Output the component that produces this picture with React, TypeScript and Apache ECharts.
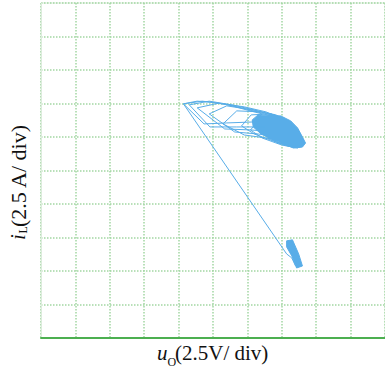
import React, { useEffect, useRef } from "react";
import * as echarts from "echarts";

// Trajectory in divisions (x: u_O, y: i_L)
const uo = [
  7.40, 7.29, 7.14, 7.06, 4.14, 4.54, 4.94, 5.46, 5.97, 6.43, 6.20, 5.40, 4.74, 4.14, 4.69,
  5.26, 5.83, 6.40, 6.83, 6.49, 5.69, 4.91, 4.31, 4.89, 5.54, 6.20, 6.77, 7.17, 6.83, 6.11,
  5.34, 4.54, 5.17, 5.91, 6.54, 7.11, 7.40, 7.11, 6.31, 5.63, 4.89, 5.40, 6.14, 6.83, 7.29,
  7.54, 7.29, 6.54, 5.91, 5.29, 5.69, 6.40, 7.06, 7.40, 7.63, 7.40, 6.83, 6.20, 5.83, 6.11,
  6.69, 7.20, 7.49, 7.66, 7.46, 7.00, 6.43, 6.09, 6.37, 6.97, 7.34, 7.57, 7.54, 7.17, 6.71,
  6.34, 6.60, 7.11, 7.46, 7.60, 7.34, 6.89, 6.54, 6.83, 7.29, 7.54,
];
const iL = [
  2.15, 2.39, 2.51, 2.63, 6.99, 7.07, 7.04, 6.96, 6.81, 6.69, 6.45, 6.42, 6.39, 6.99, 7.07,
  6.99, 6.87, 6.72, 6.57, 6.30, 6.30, 6.30, 6.96, 7.07, 6.96, 6.81, 6.63, 6.45, 6.15, 6.21,
  6.24, 6.87, 7.01, 6.90, 6.75, 6.51, 6.27, 5.97, 6.09, 6.15, 6.69, 6.93, 6.81, 6.66, 6.39,
  6.09, 5.82, 5.97, 6.06, 6.39, 6.78, 6.75, 6.57, 6.27, 5.91, 5.70, 5.85, 6.09, 6.33, 6.66,
  6.69, 6.48, 6.18, 5.82, 5.67, 5.76, 5.97, 6.21, 6.54, 6.60, 6.33, 5.97, 5.70, 5.73, 5.91,
  6.15, 6.45, 6.48, 6.15, 5.82, 5.70, 5.82, 6.06, 6.33, 6.27, 5.91,
];

// Dense (filled) regions of the trajectory
const upperBlobU = [6.31, 6.97, 7.26, 7.46, 7.60, 7.69, 7.60, 7.34, 7.06, 6.71, 6.40, 6.17, 6.14];
const upperBlobI = [6.66, 6.63, 6.48, 6.27, 6.00, 5.82, 5.70, 5.67, 5.79, 5.94, 6.09, 6.30, 6.51];
const lowerBlobU = [7.14, 7.31, 7.49, 7.60, 7.43, 7.29, 7.14];
const lowerBlobI = [2.90, 2.93, 2.51, 2.15, 2.09, 2.45, 2.72];

const DIV_MIN = 0;
const DIV_MAX = 10;

const BLUE = "#58ade8";
const GRID_GREEN = "#a2d6a2";
const SERIF = "Liberation Serif";

export default function App() {
  const ref = useRef<HTMLDivElement>(null);
  useEffect(() => {
    if (!ref.current) return;
    const chart = echarts.init(ref.current, undefined, { renderer: "svg" });
    const traj = uo.map((u, k) => [u, iL[k]]);
    const blobs = [
      upperBlobU.map((u, k) => [u, upperBlobI[k]]),
      lowerBlobU.map((u, k) => [u, lowerBlobI[k]]),
    ];
    const txt = (text: string, x: number, y: number, size: number, italic: boolean, rot = 0) => ({
      type: "text",
      x,
      y,
      rotation: rot,
      silent: true,
      style: {
        text,
        fontFamily: SERIF,
        fontSize: size,
        fontStyle: italic ? "italic" : "normal",
        fill: "#111",
        verticalAlign: "middle",
        align: "left",
      },
    });
    chart.setOption({
      animation: false,
      grid: {
        left: 41,
        top: 3,
        width: 350,
        height: 335,
        show: true,
        borderColor: "#dcecdc",
        borderWidth: 1,
      },
      xAxis: {
        type: "value",
        min: DIV_MIN,
        max: DIV_MAX,
        interval: 1,
        axisLine: { show: true, onZero: false, lineStyle: { color: "#4caf50", width: 2 } },
        axisTick: { show: false },
        axisLabel: { show: false },
        splitLine: { show: true, lineStyle: { color: GRID_GREEN, width: 1.5, type: [1.5, 1.5] } },
      },
      yAxis: {
        type: "value",
        min: DIV_MIN,
        max: DIV_MAX,
        interval: 1,
        axisLine: { show: true, lineStyle: { color: "#dcecdc", width: 1 } },
        axisTick: { show: false },
        axisLabel: { show: false },
        splitLine: { show: true, lineStyle: { color: GRID_GREEN, width: 1.5, type: [1.5, 1.5] } },
      },
      series: [
        {
          type: "custom",
          data: blobs.map((_, k) => [k]),
          renderItem: (params: any, api: any) => {
            const idx = api.value(0);
            const pts = blobs[idx].map((p) => api.coord(p));
            return {
              type: "polygon",
              shape: { points: pts },
              style: { fill: BLUE, stroke: BLUE, lineWidth: 1 },
            };
          },
          silent: true,
          z: 3,
        },
        {
          type: "line",
          data: traj,
          showSymbol: false,
          lineStyle: { color: BLUE, width: 1 },
          z: 4,
        },
      ],
      graphic: [
        txt("u", 157, 353, 21, true),
        txt("O", 167.5, 362, 12, false),
        txt("(2.5V/ div)", 175, 353, 21, false),
        txt("i", 18, 240, 21, true, Math.PI / 2),
        txt("L", 23, 233.5, 12, false, Math.PI / 2),
        txt("(2.5 A/ div)", 18, 227, 22, false, Math.PI / 2),
      ],
    });
    return () => chart.dispose();
  }, []);
  return (
    <div
      ref={ref}
      style={{ position: "fixed", left: 0, top: 0, width: 385, height: 374, background: "#fff" }}
    />
  );
}
